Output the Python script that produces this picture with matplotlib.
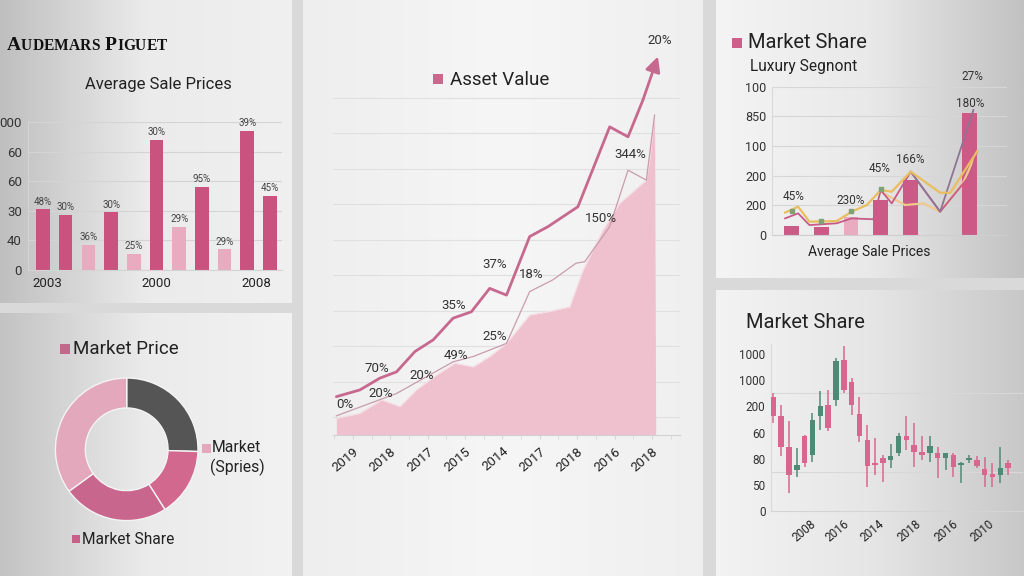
import numpy as np
import matplotlib
matplotlib.use("Agg")
import matplotlib.pyplot as plt
from matplotlib.patches import Rectangle
from matplotlib.colors import to_rgb
from matplotlib.offsetbox import TextArea, HPacker, AnchoredOffsetbox

W, H = 1024, 576
plt.rcParams["font.family"] = ["Roboto", "DejaVu Sans"]

# ── top-left: Average Sale Prices bars ───────────────────────────────────────
asp_values = [41, 37, 17, 39, 11, 88, 29, 56, 14, 94, 50]
asp_labels = ["48%", "30%", "36%", "30%", "25%", "30%", "29%", "95%", "29%", "39%", "45%"]
asp_light = [False, False, True, False, True, False, True, False, True, False, False]
asp_yticks = ["0", "40", "30", "60", "60", "000"]
asp_xticks = ["2003", "2000", "2008"]

# ── centre: Asset Value ──────────────────────────────────────────────────────
asset_years = ["2019", "2018", "2017", "2015", "2014", "2017", "2018", "2016", "2018"]
top_x = [-0.44, 0.19, 0.72, 1.17, 1.66, 2.15, 2.68, 3.17, 3.66, 4.11, 4.73, 5.22, 6.02, 6.87, 7.36, 7.76, 8.16]
top_y = [10.8, 12.7, 16.0, 17.8, 23.5, 26.8, 32.9, 34.7, 41.3, 39.4, 55.9, 58.7, 64.3, 86.8, 84.0, 94.4, 106.6]
mid_x = [-0.44, 1.17, 2.68, 3.22, 4.11, 4.73, 5.35, 5.97, 6.2, 6.87, 7.36, 7.85, 8.07]
mid_y = [5.4, 11.7, 20.6, 22.1, 25.8, 40.4, 43.7, 48.4, 48.8, 58.7, 74.6, 71.8, 90.1]
area_x = [-0.44, 0.19, 0.77, 1.26, 1.7, 2.24, 2.73, 3.22, 3.66, 4.11, 4.73, 5.22, 5.8, 6.16, 6.69, 7.14, 7.85, 7.94, 8.07, 8.1]
area_y = [4.7, 6.1, 9.9, 8.0, 12.7, 16.9, 20.2, 19.2, 22.1, 25.8, 33.8, 34.7, 36.1, 46.5, 57.7, 65.3, 71.8, 77.5, 90.1, 0]
asset_notes = ["20%", "344%", "150%", "37%", "18%", "35%", "25%", "49%", "70%", "20%", "20%", "0%"]
note_x = [8.2, 7.41, 6.65, 3.8, 4.78, 2.7, 3.8, 2.77, 0.65, 1.84, 0.74, -0.21]
note_y = [111, 78.9, 61, 48.1, 45.1, 36.6, 27.7, 22.5, 18.8, 16.9, 11.7, 8.5]

# ── top-right: Market Share / Luxury segment ─────────────────────────────────
ms_values = [6.1, 5.6, 12.1, 23.6, 37.1, 0, 82.5]
ms_light = [False, False, True, False, False, False, False]
ms_yticks = ["0", "200", "200", "100", "850", "100"]
gold_x = [-0.22, 0.22, 0.6, 1.52, 2.02, 2.53, 3.0, 3.37, 4.01, 5.0, 5.34, 6.24]
gold_y = [15.1, 19.1, 9.0, 9.4, 15.7, 20.2, 30.3, 29.2, 42.7, 28.5, 28.5, 56.2]
peach_x = [3.0, 3.82, 4.44, 5.0, 5.79, 6.24]
peach_y = [29.2, 20.2, 21.3, 15.7, 36.0, 56.2]
rose_x = [-0.22, 0.22, 0.6, 1.52, 2.02, 2.75, 3.0, 3.37, 4.01, 5.0, 6.01, 6.24]
rose_y = [11.2, 14.6, 6.7, 7.9, 11.2, 10.6, 30.3, 21.3, 42.7, 15.7, 40.4, 56.2]
mauve_x = [4.01, 5.0, 6.12]
mauve_y = [42.7, 15.7, 84.3]
marker_x = [0, 1, 2, 3]
marker_y = [16.4, 9.7, 16.4, 30.8]
ms_notes = ["45%", "230%", "45%", "166%", "180%", "27%"]
ms_note_x = [0.06, 1.97, 2.96, 3.99, 6.01, 6.07]
ms_note_y = [25.8, 23.6, 44.9, 50.6, 89, 106.7]

# ── bottom-right: candlesticks ───────────────────────────────────────────────
opens = [43.8, 36.2, 24.4, 15.6, 28.5, 21.4, 36.2, 40.6, 42.6, 57.7, 49.2, 37.1, 27.2, 18.2, 20.1, 19.5,
         22.1, 28.5, 25.3, 22.7, 22.1, 22.3, 20.1, 21.4, 17.6, 19.5, 19.5, 16.0, 14.1, 13.7, 18.2]
closes = [36.2, 24.6, 13.7, 17.6, 18.2, 34.9, 40.0, 31.7, 57.3, 46.4, 40.6, 28.5, 17.2, 17.6, 18.2, 20.8,
          28.5, 27.2, 22.7, 21.4, 24.9, 20.1, 22.1, 16.9, 18.2, 20.1, 17.2, 13.7, 12.8, 16.3, 16.3]
highs = [45.1, 40.6, 34.5, 24.0, 29.1, 37.4, 45.8, 46.4, 58.6, 63.1, 50.9, 43.6, 32.9, 27.8, 21.4, 25.6,
         29.7, 36.2, 33.8, 28.7, 28.7, 24.6, 22.1, 22.1, 18.8, 21.4, 20.8, 20.5, 18.2, 24.6, 19.5]
lows = [33.6, 20.8, 6.7, 13.1, 16.9, 18.8, 31.0, 30.4, 40.0, 45.1, 36.8, 26.5, 9.2, 13.7, 11.2, 16.3,
        20.8, 23.3, 16.9, 19.5, 18.8, 12.4, 15.6, 13.1, 10.5, 18.2, 16.3, 9.2, 9.2, 10.5, 13.7]
candle_yticks = ["0", "50", "80", "60", "200", "1000", "1000"]
candle_xticks = ["2008", "2016", "2014", "2018", "2016", "2010"]

# ── bottom-left: donut ───────────────────────────────────────────────────────
donut_shares = [25.5, 15.5, 24, 35]
donut_colors = ["#555555", "#d3688f", "#c9668d", "#e3a8bc"]

PINK = "#c9527e"
LIGHT = "#e8abc0"
TXT = "#222222"

fig = plt.figure(figsize=(W / 100, H / 100), dpi=100)
fig.patch.set_facecolor("#d9d9d9")


def add_ax(x0, y0, x1, y1, **kw):
    return fig.add_axes([x0 / W, 1 - y1 / H, (x1 - x0) / W, (y1 - y0) / H], **kw)


def fig_text(x, y, s, **kw):
    return fig.text(x / W, 1 - y / H, s, **kw)


def key(x, y, s, color):
    fig.add_artist(Rectangle((x / W, 1 - (y + s) / H), s / W, s / H,
                             transform=fig.transFigure, color=color, lw=0))


# card backgrounds (horizontal gradients)
bg = add_ax(0, 0, W, H, zorder=-10)
bg.set_xlim(0, W)
bg.set_ylim(H, 0)
bg.axis("off")
cards = [
    ((0, 0, 292, 303), ["#bfbfbf", "#ebebeb", "#f0f0f0"]),
    ((0, 313, 292, H), ["#c3c3c3", "#ebebeb", "#f2f2f2"]),
    ((303, 0, 703, H), ["#eeeeee", "#f6f6f6", "#efefef"]),
    ((716, 0, W, 278), ["#f4f4f4", "#e9e9e9", "#c2c2c2"]),
    ((716, 290, W, H), ["#f3f3f3", "#e6e6e6", "#c8c8c8"]),
]
for (x0, y0, x1, y1), stops in cards:
    t = np.linspace(0, 1, 256)
    cols = np.array([to_rgb(c) for c in stops])
    grad = np.stack([np.interp(t, [0, 0.5, 1], cols[:, k]) for k in range(3)], axis=-1)
    bg.imshow(grad[None, :, :], extent=(x0, x1, y1, y0), aspect="auto", interpolation="bilinear")

# ── top-left panel ───────────────────────────────────────────────────────────
# small-caps logo built letter by letter
words = []
for word in ["AUDEMARS", "PIGUET"]:
    letters = [TextArea(ch, textprops=dict(family="Liberation Serif", weight="bold",
                                           fontsize=14 if i == 0 else 11.2, color="#111111"))
               for i, ch in enumerate(word)]
    words.append(HPacker(children=letters, align="baseline", pad=0, sep=0))
logo = HPacker(children=words, align="baseline", pad=0, sep=4)
fig.add_artist(AnchoredOffsetbox(loc="center left", child=logo, frameon=False, pad=0, borderpad=0,
                                 bbox_to_anchor=(7 / W, 1 - 46 / H), bbox_transform=fig.transFigure))

fig_text(158, 85, "Average Sale Prices", ha="center", va="center", fontsize=12, color=TXT)

ax = add_ax(28, 122, 282, 270)
ax.patch.set_alpha(0)
xs = np.arange(len(asp_values))
ax.bar(xs, asp_values, width=0.6, color=[LIGHT if l else PINK for l in asp_light], zorder=2)
for xi, v, lab in zip(xs, asp_values, asp_labels):
    ax.annotate(lab, (xi, v), xytext=(0, 2), textcoords="offset points",
                ha="center", va="bottom", fontsize=7, color="#444444")
ax.set_xlim(-0.66, 10.53)
ax.set_ylim(0, 100)
ax.set_yticks(range(0, 101, 20))
ax.set_yticklabels(asp_yticks, fontsize=9.5, color="#333333")
ax.set_xticks([0.2, 5, 9.4])
ax.set_xticklabels(asp_xticks, fontsize=9.5, color="#222222")
ax.tick_params(length=0)
ax.tick_params(axis="y", pad=4.5)
ax.tick_params(axis="x", pad=5)
ax.yaxis.grid(True, color="#d4d4d4", lw=0.8)
ax.set_axisbelow(True)
for s in ["top", "right"]:
    ax.spines[s].set_visible(False)
ax.spines["left"].set_color("#d4d4d4")
ax.spines["bottom"].set_color("#d4d4d4")

# ── centre panel ─────────────────────────────────────────────────────────────
key(433, 74, 10, "#c9698e")
fig_text(450, 80, "Asset Value", ha="left", va="center", fontsize=13.5, color=TXT)

ax = add_ax(333, 44.5, 680, 435)
ax.patch.set_alpha(0)
ax.fill_between(area_x, area_y, color="#efc1cf", lw=0, zorder=2)
ax.plot(area_x[:-1], area_y[:-1], color="#f7dde5", lw=0.8, zorder=3)
ax.plot(mid_x, mid_y, color="#c99cad", lw=0.9, zorder=3)
ax.plot(top_x[:-1], top_y[:-1], color="#c7688f", lw=2, zorder=4, solid_capstyle="round")
ax.annotate("", xy=(top_x[-1], top_y[-1]), xytext=(top_x[-2], top_y[-2]),
            arrowprops=dict(arrowstyle="-|>,head_length=0.9,head_width=0.45", color="#c7688f",
                            lw=2, shrinkA=0, shrinkB=0, mutation_scale=10), zorder=4)
for t, x, y in zip(asset_notes, note_x, note_y):
    ax.text(x, y, t, ha="center", va="center", fontsize=9.5, color="#333333", zorder=5)
ax.set_xlim(-0.53, 8.75)
ax.set_ylim(0, 110)
ax.set_yticks(np.arange(5, 100, 10))
ax.set_yticklabels([])
ax.tick_params(axis="y", length=0)
ax.yaxis.grid(True, color="#e0e0e0", lw=0.8)
ax.set_axisbelow(True)
ax.set_xticks(range(len(asset_years)))
ax.set_xticklabels(asset_years, rotation=40, ha="right", rotation_mode="anchor",
                   fontsize=9.5, color="#222222")
ax.set_xticks(np.arange(-0.5, 8.6, 0.5), minor=True)
ax.tick_params(axis="x", which="both", length=3, color="#d6d6d6", pad=4)
for s in ["top", "right", "left"]:
    ax.spines[s].set_visible(False)
ax.spines["bottom"].set_color("#d0d0d0")

# ── top-right panel ──────────────────────────────────────────────────────────
key(732, 38, 10, "#cf5f8a")
fig_text(748, 43, "Market Share", ha="left", va="center", fontsize=14.5, color=TXT)
fig_text(750, 66, "Luxury Segnont", ha="left", va="center", fontsize=11.2, color=TXT)
fig_text(869, 252, "Average Sale Prices", ha="center", va="center", fontsize=10, color=TXT)

ax = add_ax(772, 86.7, 1007, 235)
ax.patch.set_alpha(0)
xs = np.arange(len(ms_values))
ax.bar(xs, ms_values, width=0.5, color=[LIGHT if l else "#cc5a86" for l in ms_light], zorder=2)
ax.plot(peach_x, peach_y, color="#f1c98f", lw=1.6, zorder=3)
ax.plot(rose_x, rose_y, color="#c65b88", lw=1.3, zorder=3)
ax.plot(mauve_x, mauve_y, color="#8f7495", lw=1.3, zorder=3)
ax.plot(gold_x, gold_y, color="#e9be5e", lw=1.6, zorder=4)
ax.plot(marker_x, marker_y, ls="none", marker="s", ms=3.5, color="#7fa276", zorder=5)
for t, x, y in zip(ms_notes, ms_note_x, ms_note_y):
    ax.text(x, y, t, ha="center", va="center", fontsize=8.5, color="#333333", zorder=6)
ax.set_xlim(-0.66, 7.25)
ax.set_ylim(0, 100)
ax.set_yticks(range(0, 101, 20))
ax.set_yticklabels(ms_yticks, fontsize=9, color="#333333")
ax.set_xticks([])
ax.tick_params(length=0, pad=4)
ax.yaxis.grid(True, color="#d6d6d6", lw=0.8)
ax.set_axisbelow(True)
for s in ["top", "right"]:
    ax.spines[s].set_visible(False)
ax.spines["left"].set_color("#dadada")
ax.spines["bottom"].set_color("#cfcfcf")

# ── bottom-right panel ───────────────────────────────────────────────────────
fig_text(746, 323, "Market Share", ha="left", va="center", fontsize=14.5, color=TXT)

ax = add_ax(771, 343.9, 1023, 510.7)
ax.patch.set_alpha(0)
o = np.array(opens)
c = np.array(closes)
xs = np.arange(len(opens))
ccol = np.where(c >= o, "#4f8a77", "#d8678f")
ax.vlines(xs, lows, highs, color=ccol, lw=1.1, zorder=2)
ax.bar(xs, np.maximum(np.abs(c - o), 0.6), bottom=np.minimum(o, c), width=0.7, color=ccol, zorder=3)
ax.set_xlim(-0.3, 31.9)
ax.set_ylim(0, 64)
ax.set_yticks(range(0, 61, 10))
ax.set_yticklabels(candle_yticks, fontsize=8.5, color="#333333")
ax.set_yticks([15, 30, 45, 60], minor=True)
ax.yaxis.grid(True, which="minor", color="#d8d8d8", lw=0.8)
ax.set_axisbelow(True)
ax.set_xticks([4.7, 8.9, 13.4, 18.1, 22.9, 27.4])
ax.set_xticklabels(candle_xticks, rotation=40, ha="right", rotation_mode="anchor",
                   fontsize=8.5, color="#222222")
ax.tick_params(which="both", length=0)
ax.tick_params(axis="x", pad=5)
ax.tick_params(axis="y", pad=4)
for s in ["top", "right"]:
    ax.spines[s].set_visible(False)
ax.spines["left"].set_color("#dadada")
ax.spines["bottom"].set_color("#d4d4d4")

# ── bottom-left panel ────────────────────────────────────────────────────────
key(60, 344, 10, "#c2688a")
fig_text(73, 349, "Market Price", ha="left", va="center", fontsize=13.5, color=TXT)
key(202, 444, 9, "#e3a8bc")
fig_text(212, 448, "Market", ha="left", va="center", fontsize=11.3, color=TXT)
fig_text(210, 467, "(Spries)", ha="left", va="center", fontsize=11.3, color=TXT)
key(72, 535, 8, "#c9608a")
fig_text(82, 539, "Market Share", ha="left", va="center", fontsize=11.2, color=TXT)

ax = add_ax(126.7 - 72, 449.3 - 72, 126.7 + 72, 449.3 + 72)
ax.pie(donut_shares, colors=donut_colors, startangle=90, counterclock=False,
       wedgeprops=dict(width=0.42, edgecolor="#f4f4f4", linewidth=1))
ax.set_xlim(-1.01, 1.01)
ax.set_ylim(-1.01, 1.01)
ax.set_aspect("equal")
ax.axis("off")

fig.savefig("out.png", dpi=100)
